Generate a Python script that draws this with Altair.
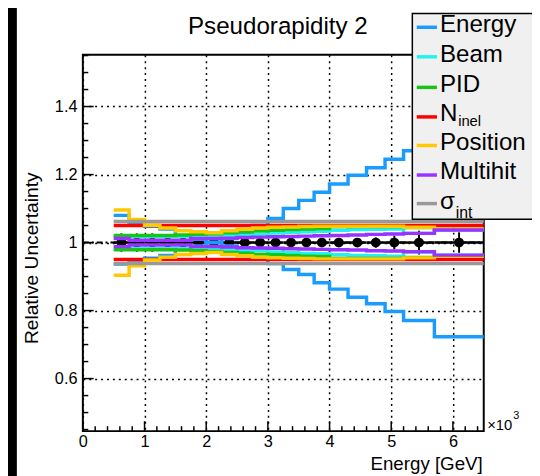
import altair as alt
import pandas as pd

# ---------------- data ----------------
edges = [0.5, 0.75, 1.0, 1.25, 1.5, 1.75, 2.0, 2.25, 2.5, 2.75, 3.0,
         3.25, 3.5, 3.75, 4.0, 4.3, 4.6, 4.9, 5.2, 5.7, 6.5]
data_val = [1.0] * 20
data_err = [0.027, 0.027, 0.027, 0.025, 0.025, 0.022, 0.02, 0.015, 0.01, 0.01,
            0.01, 0.01, 0.01, 0.01, 0.012, 0.013, 0.015, 0.02, 0.035, 0.03]

energy_up = [0.08, 0.06, 0.048, 0.04, 0.02, 0.01, 0.0, 0.012, 0.03, 0.05,
             0.071, 0.10, 0.124, 0.148, 0.172, 0.198, 0.22, 0.245, 0.27, 0.30]
energy_lo = [0.063, 0.06, 0.046, 0.038, 0.02, 0.01, 0.0, 0.01, 0.025, 0.045,
             0.062, 0.079, 0.094, 0.118, 0.137, 0.161, 0.18, 0.203, 0.229, 0.277]
beam = [0.018, 0.018, 0.018, 0.018, 0.018, 0.018, 0.019, 0.02, 0.021, 0.023,
        0.028, 0.030, 0.032, 0.033, 0.036, 0.038, 0.039, 0.040, 0.027, 0.037]
pid = [0.021, 0.021, 0.021, 0.021, 0.022, 0.024, 0.026, 0.029, 0.032, 0.034,
       0.036, 0.038, 0.040, 0.041, 0.047, 0.047, 0.047, 0.047, 0.044, 0.039]
ninel = [0.05] * 20
position = [0.096, 0.068, 0.051, 0.043, 0.035, 0.032, 0.029, 0.035, 0.039, 0.043,
            0.045, 0.046, 0.047, 0.048, 0.048, 0.048, 0.048, 0.048, 0.045, 0.04]
multihit = [0.012, 0.007, 0.007, 0.007, 0.007, 0.012, 0.012, 0.013, 0.015, 0.016,
            0.017, 0.018, 0.019, 0.020, 0.021, 0.022, 0.024, 0.025, 0.027, 0.037]
sigma_int = [0.062] * 20

series = [
    ("Energy", "#1a9cff", energy_up, energy_lo),
    ("Beam", "#22f2f2", beam, beam),
    ("PID", "#18c418", pid, pid),
    ("N_inel", "#ff0000", ninel, ninel),
    ("Position", "#ffc800", position, position),
    ("Multihit", "#9933ff", multihit, multihit),
    ("sigma_int", "#999999", sigma_int, sigma_int),
]

x_major = [0, 1, 2, 3, 4, 5, 6]
x_minor = [round(i * 0.2, 1) for i in range(33) if i % 5 != 0]
y_major = [0.6, 0.8, 1.0, 1.2, 1.4]
y_minor = [0.45, 0.5, 0.55, 0.65, 0.7, 0.75, 0.85, 0.9, 0.95, 1.05, 1.1, 1.15,
           1.25, 1.3, 1.35, 1.45, 1.5, 1.55]

FONT = "Liberation Sans"
W, H = 407, 382

xscale = alt.Scale(domain=[0, 6.5], nice=False, zero=False)
yscale = alt.Scale(domain=[0.4455, 1.552], nice=False, zero=False)
x_axis = alt.Axis(values=x_major, format="d", ticks=False, domain=False, grid=True,
                  gridColor="black", gridDash=[2, 4], gridWidth=1.5, gridOpacity=1,
                  labelFont=FONT, labelFontSize=16.5, labelColor="black",
                  labelPadding=3, labelFlush=False, labelOverlap=False, title=None)
y_axis = alt.Axis(values=y_major, format="~g", ticks=False, domain=False, grid=True,
                  gridColor="black", gridDash=[2, 4], gridWidth=1.5, gridOpacity=1,
                  labelFont=FONT, labelFontSize=16.5, labelColor="black",
                  labelPadding=6, labelFlush=False, labelOverlap=False, title=None)


def X(f):
    return alt.X(f, type="quantitative", scale=xscale, axis=x_axis)


def Y(f):
    return alt.Y(f, type="quantitative", scale=yscale, axis=y_axis)


dummy = pd.DataFrame({"d": [0]})
layers = []

# dash-dot reference line at 1
ref = pd.DataFrame({"x0": [0.0], "x1": [6.5], "y": [1.0]})
layers.append(alt.Chart(ref).mark_rule(color="black", strokeWidth=2, strokeDash=[6, 3, 2, 3])
              .encode(x=X("x0"), x2="x1", y=Y("y")))

# data points
centers = [(edges[i] + edges[i + 1]) / 2 for i in range(20)]
ddf = pd.DataFrame({
    "lo": edges[:-1], "hi": edges[1:], "c": centers, "v": data_val,
    "elo": [v - e for v, e in zip(data_val, data_err)],
    "ehi": [v + e for v, e in zip(data_val, data_err)],
})
layers.append(alt.Chart(ddf).mark_rule(color="black", strokeWidth=2)
              .encode(x=X("c"), y=Y("elo"), y2="ehi"))
layers.append(alt.Chart(ddf).mark_rule(color="black", strokeWidth=2.5)
              .encode(x=X("lo"), x2="hi", y=Y("v")))
layers.append(alt.Chart(ddf).mark_circle(color="black", size=100, opacity=1)
              .encode(x=X("c"), y=Y("v")))

# systematic step lines
for name, col, up, lo in series:
    rows = []
    for side, devs, sgn in (("up", up, 1), ("lo", lo, -1)):
        for i, e in enumerate(edges):
            d = devs[min(i, len(devs) - 1)]
            rows.append({"x": e, "y": 1 + sgn * d, "side": side})
    df = pd.DataFrame(rows)
    layers.append(alt.Chart(df).mark_line(interpolate="step-after", color=col,
                                          strokeWidth=3.5, strokeCap="butt")
                  .encode(x=X("x"), y=Y("y"), detail="side:N"))

# inside ticks
layers.append(alt.Chart(pd.DataFrame({"t": x_major})).mark_rule(color="black", strokeWidth=1.5)
              .encode(x=X("t"), y=alt.value(H), y2=alt.value(H - 10)))
layers.append(alt.Chart(pd.DataFrame({"t": x_minor})).mark_rule(color="black", strokeWidth=1.5)
              .encode(x=X("t"), y=alt.value(H), y2=alt.value(H - 5)))
layers.append(alt.Chart(pd.DataFrame({"t": y_major})).mark_rule(color="black", strokeWidth=1.5)
              .encode(y=Y("t"), x=alt.value(0), x2=alt.value(11)))
layers.append(alt.Chart(pd.DataFrame({"t": y_minor})).mark_rule(color="black", strokeWidth=1.5)
              .encode(y=Y("t"), x=alt.value(0), x2=alt.value(5.5)))

# legend
layers.append(alt.Chart(dummy).mark_rect(fill="#f0f0f0", stroke="black", strokeWidth=1.5)
              .encode(x=alt.value(334.5), x2=alt.value(470), y=alt.value(-42), y2=alt.value(167)))
leg_line_y = [-28, 2, 33, 63, 92, 122, 151]
leg_base_y = [-22.7, 7.3, 37.3, 67.3, 96.7, 126.3, 156.3]
leg_text = ["Energy", "Beam", "PID", "N", "Position", "Multihit", "σ"]
for (name, col, _, _), ly, by, txt in zip(series, leg_line_y, leg_base_y, leg_text):
    layers.append(alt.Chart(dummy).mark_rule(color=col, strokeWidth=3.5)
                  .encode(x=alt.value(339), x2=alt.value(359.5), y=alt.value(ly)))
    layers.append(alt.Chart(dummy).mark_text(text=txt, font=FONT, fontSize=24.5, align="left",
                                             baseline="alphabetic", color="black")
                  .encode(x=alt.value(362.5), y=alt.value(by)))
layers.append(alt.Chart(dummy).mark_text(text="inel", font=FONT, fontSize=15, align="left",
                                         baseline="alphabetic", color="black")
              .encode(x=alt.value(381), y=alt.value(72.5)))
layers.append(alt.Chart(dummy).mark_text(text="int", font=FONT, fontSize=16, align="left",
                                         baseline="alphabetic", color="black")
              .encode(x=alt.value(378.5), y=alt.value(166)))

# titles and decorations
layers.append(alt.Chart(dummy).mark_text(text="Pseudorapidity 2", font=FONT, fontSize=24.5,
                                         align="center", baseline="alphabetic", color="black")
              .encode(x=alt.value(198), y=alt.value(-21.5)))
layers.append(alt.Chart(dummy).mark_text(text="Relative Uncertainty", font=FONT, fontSize=19.5,
                                         align="center", baseline="alphabetic", angle=270,
                                         color="black")
              .encode(x=alt.value(-46), y=alt.value(206.5)))
layers.append(alt.Chart(dummy).mark_text(text="Energy [GeV]", font=FONT, fontSize=19,
                                         align="right", baseline="alphabetic", color="black")
              .encode(x=alt.value(406), y=alt.value(421)))
layers.append(alt.Chart(dummy).mark_text(text="×10", font=FONT, fontSize=15,
                                         align="left", baseline="alphabetic", color="black")
              .encode(x=alt.value(410.5), y=alt.value(380.7)))
layers.append(alt.Chart(dummy).mark_text(text="3", font=FONT, fontSize=11,
                                         align="left", baseline="alphabetic", color="black")
              .encode(x=alt.value(437), y=alt.value(369.6)))
layers.append(alt.Chart(dummy).mark_rule(color="black", strokeWidth=9)
              .encode(x=alt.value(-71.5), y=alt.value(-60), y2=alt.value(440)))

chart = alt.layer(*layers).properties(
    width=W, height=H,
    padding={"left": 76, "top": 44, "right": 49, "bottom": 42},
    autosize=alt.AutoSizeParams(type="none"),
    background="white",
).configure_view(stroke="black", strokeWidth=2)

chart.save("out.html", embed_options={"renderer": "svg", "actions": False})
